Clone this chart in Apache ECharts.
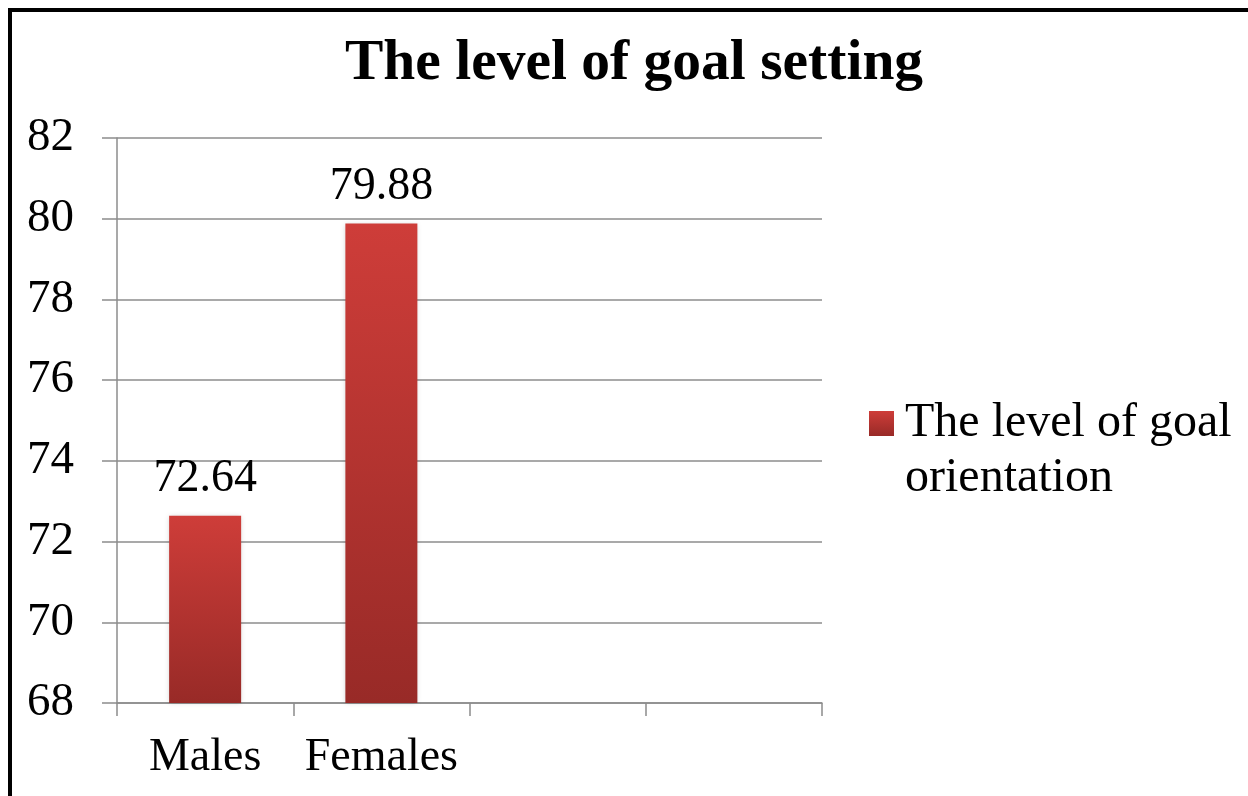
<!DOCTYPE html>
<html>
<head>
<meta charset="utf-8">
<script src="https://cdn.jsdelivr.net/npm/echarts@6/dist/echarts.min.js"></script>
<style>html,body{margin:0;padding:0;background:#fff;}#c{width:1248px;height:796px;}</style>
</head>
<body>
<div id="c"></div>
<script>
const categories = ['Males', 'Females', '', ''];
const seriesName = 'The level of goal orientation';
const values = [72.64, 79.88, null, null];
const yTicks = { min: 68, max: 82, interval: 2 };
const titleText = 'The level of goal setting';

const serif = '"Liberation Serif", "Times New Roman", serif';
const chart = echarts.init(document.getElementById('c'));
const grad = new echarts.graphic.LinearGradient(0, 0, 0, 1, [
  { offset: 0, color: '#ce3d39' },
  { offset: 1, color: '#982a27' }
]);
chart.setOption({
  animation: false,
  backgroundColor: '#fff',
  title: {
    text: titleText,
    left: 345, top: 35, padding: 0,
    textStyle: { fontFamily: serif, fontSize: 57.5, fontWeight: 'bold', color: '#000' }
  },
  graphic: [{
    type: 'rect', shape: { x: 10, y: 10, width: 1400, height: 1000 },
    style: { fill: 'none', stroke: '#000', lineWidth: 4 }, silent: true
  }],
  legend: {
    left: 869, top: 341, padding: 0,
    itemWidth: 25, itemHeight: 25,
    icon: 'rect',
    formatter: function () { return '\nThe level of goal\norientation'; },
    textStyle: { fontFamily: serif, fontSize: 48, color: '#000', lineHeight: 55, padding: [0, 0, 0, 6] }
  },
  grid: { left: 117, right: 426, top: 138, bottom: 93, containLabel: false },
  xAxis: {
    type: 'category', data: categories,
    axisLine: { lineStyle: { color: '#8c8c8c', width: 1.5 } },
    axisTick: { show: true, interval: 0, length: 13, lineStyle: { color: '#8c8c8c', width: 1.5 } },
    axisLabel: { interval: 0, hideOverlap: false, fontFamily: serif, fontSize: 46, color: '#000', margin: 32 }
  },
  yAxis: {
    type: 'value', min: yTicks.min, max: yTicks.max, interval: yTicks.interval,
    axisLine: { show: true, lineStyle: { color: '#8c8c8c', width: 1.5 } },
    axisTick: { show: true, length: 15, lineStyle: { color: '#8c8c8c', width: 1.5 } },
    splitLine: { lineStyle: { color: '#8c8c8c', width: 1.5 } },
    axisLabel: { fontFamily: serif, fontSize: 47, color: '#000', margin: 43 }
  },
  series: [{
    name: seriesName, type: 'bar', data: values, barWidth: 72,
    itemStyle: { color: grad, shadowColor: 'rgba(0,0,0,0.18)', shadowBlur: 5 },
    label: { show: true, position: 'top', distance: 14, fontFamily: serif, fontSize: 46, color: '#000' }
  }]
});
</script>
</body>
</html>
